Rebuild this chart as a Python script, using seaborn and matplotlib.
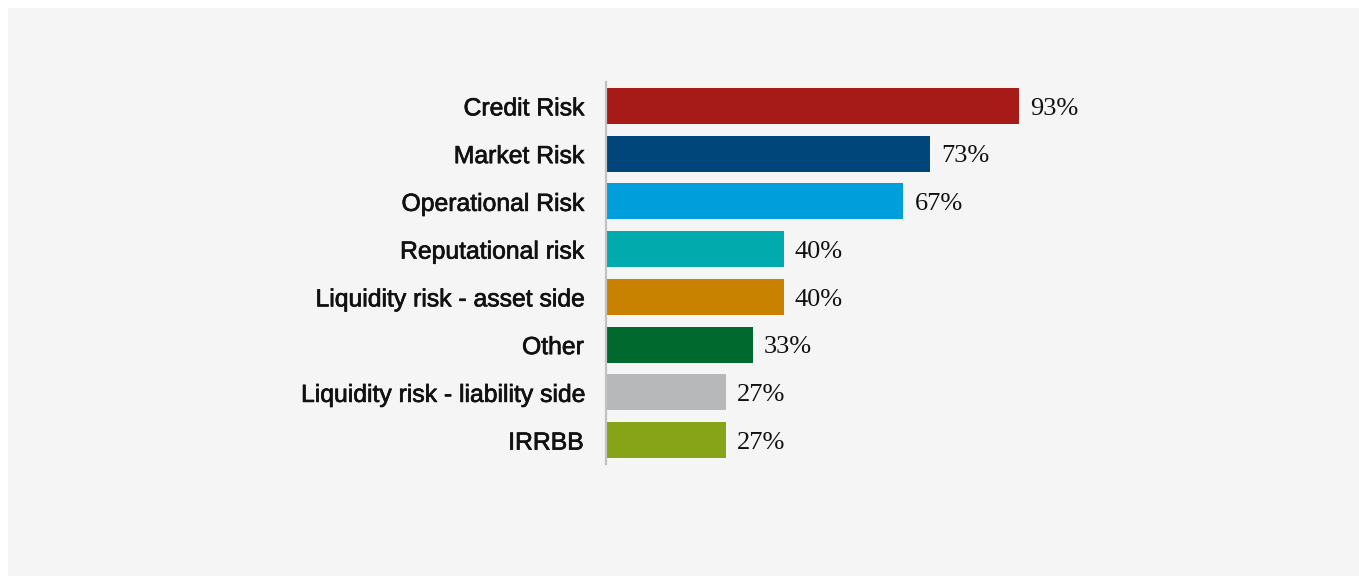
import matplotlib
matplotlib.use("Agg")
import matplotlib.pyplot as plt
import matplotlib.patheffects as pe
from matplotlib.patches import Rectangle
import seaborn as sns
import pandas as pd

categories = [
    "Credit Risk",
    "Market Risk",
    "Operational Risk",
    "Reputational risk",
    "Liquidity risk - asset side",
    "Other",
    "Liquidity risk - liability side",
    "IRRBB",
]
values = [93, 73, 67, 40, 40, 33, 27, 27]
colors = ["#a61a17", "#00467a", "#009edb", "#00aaad", "#c98200", "#006a2e", "#b7b8ba", "#87a317"]

df = pd.DataFrame({"category": categories, "value": values})

sns.set_theme(style="white")
plt.rcParams["font.family"] = ["Liberation Sans", "DejaVu Sans"]

fig = plt.figure(figsize=(13.59, 5.76), dpi=100, facecolor="white")
# light grey backdrop panel, kept behind the axes
fig.patches.append(Rectangle((8 / 1359, 0), 1 - 8 / 1359, 1 - 8 / 576,
                             transform=fig.transFigure, facecolor="#f5f5f5",
                             edgecolor="none", zorder=-10))

ax = fig.add_axes([606 / 1359, 112 / 576, 444 / 1359, 382 / 576])
ax.set_facecolor("none")
ax.set_zorder(5)

sns.barplot(data=df, x="value", y="category", hue="category", palette=colors,
            order=categories, hue_order=categories, orient="h", width=0.75,
            legend=False, saturation=1, linewidth=0, ax=ax)

ax.set_xlim(0, 100)
ax.set_ylim(len(categories) - 0.5, -0.5)
ax.set_xlabel("")
ax.set_ylabel("")
ax.set_xticks([])

for s in ["top", "right", "bottom"]:
    ax.spines[s].set_visible(False)
ax.spines["left"].set_color("#c2c2c2")
ax.spines["left"].set_linewidth(1.6)

ax.tick_params(axis="y", length=0, pad=16)
for lbl in ax.get_yticklabels():
    lbl.set_fontsize(17.8)
    lbl.set_color("#111111")
    lbl.set_path_effects([pe.withStroke(linewidth=0.5, foreground="#111111")])

for i, v in enumerate(values):
    ax.annotate(f"{v}%", xy=(v, i), xytext=(8, -2), textcoords="offset points",
                ha="left", va="center", fontsize=19, color="#111111",
                family=["Liberation Serif", "DejaVu Serif"])

fig.savefig("out.png", dpi=100, facecolor="white")
